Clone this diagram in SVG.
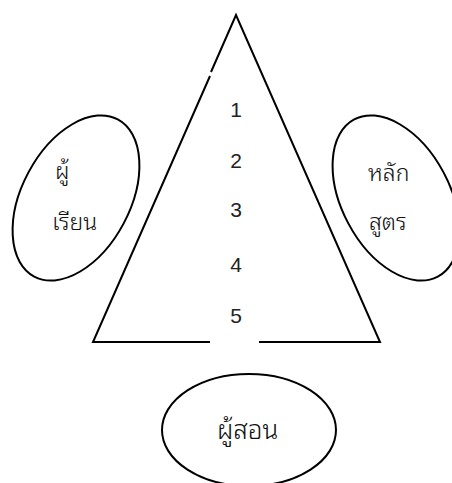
<svg xmlns="http://www.w3.org/2000/svg" width="452" height="483" viewBox="0 0 452 483">
  <style>
    .ln { fill: none; stroke: #000; stroke-width: 2; stroke-linecap: butt; stroke-linejoin: miter; }
    .num { font-family: "Liberation Sans", Arial, sans-serif; font-size: 21px; fill: #222; text-anchor: middle; }
    .th { font-family: "Noto Sans Thai Looped", "Noto Sans Thai", "Noto Sans", sans-serif; font-size: 23px; font-weight: 300; fill: #111; }
  </style>
  <rect width="452" height="483" fill="#fff"/>
  <g id="pyramid">
    <path class="ln" d="M211,72 L236,15 L380,342 L259,342"/>
    <path class="ln" d="M210,76 L93,342 L210,342"/>
    <text class="num" x="236" y="117">1</text>
    <text class="num" x="236" y="168">2</text>
    <text class="num" x="236" y="217">3</text>
    <text class="num" x="236" y="272">4</text>
    <text class="num" x="236" y="323">5</text>
  </g>
  <g id="learner">
    <ellipse class="ln" cx="76" cy="198" rx="54" ry="89" transform="rotate(28 76 198)"/>
    <text class="th" x="55" y="179">ผู้</text>
    <text class="th" x="52" y="230">เรียน</text>
  </g>
  <g id="curriculum">
    <ellipse class="ln" cx="396" cy="198" rx="54" ry="89" transform="rotate(-28 396 198)"/>
    <text class="th" x="368" y="181">หลัก</text>
    <text class="th" x="369" y="230">สูตร</text>
  </g>
  <g id="teacher">
    <ellipse class="ln" cx="249" cy="430" rx="87" ry="56"/>
    <text class="th" x="217" y="439" style="font-size:26px">ผู้สอน</text>
  </g>
  <g id="connectors"/>
</svg>
